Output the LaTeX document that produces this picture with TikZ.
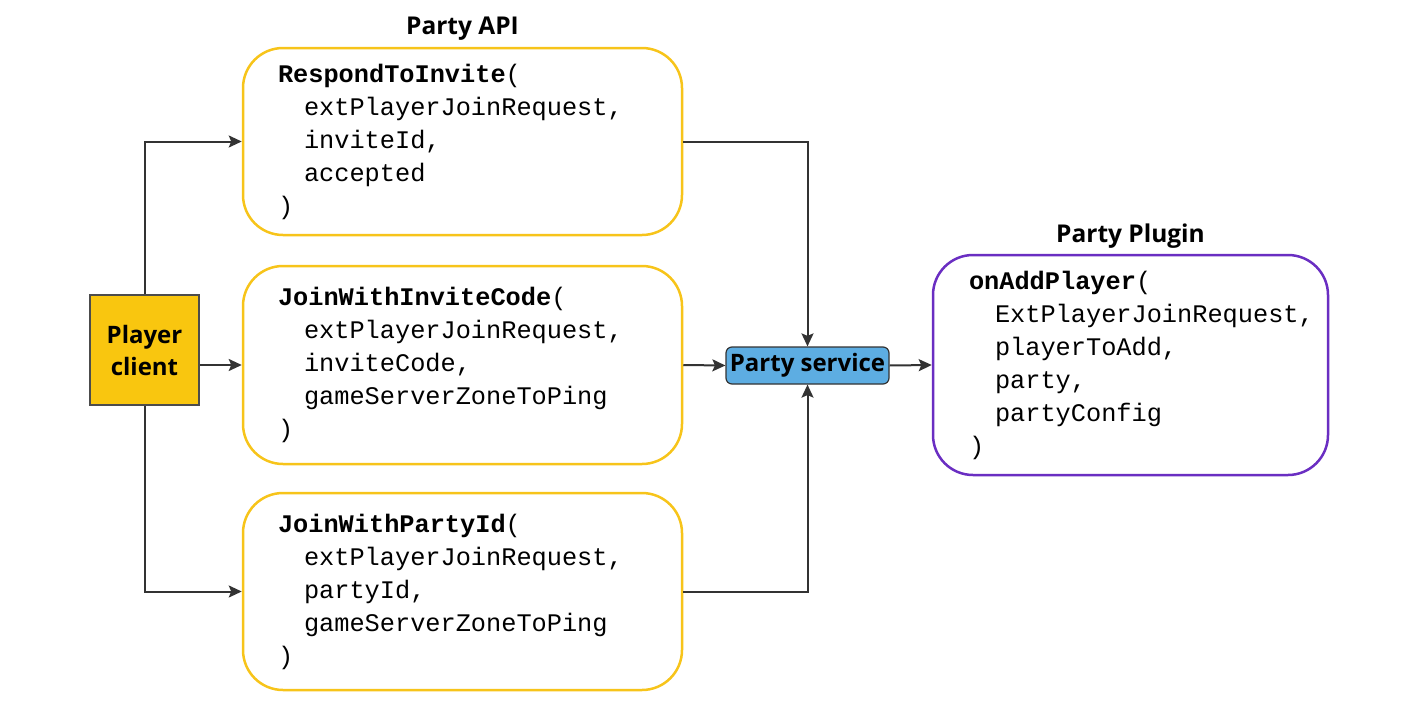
\documentclass[tikz,border=0pt]{standalone}
\usepackage{fontspec}
\setmainfont{Open Sans}
\newfontfamily\codefont{Liberation Mono}[HyphenChar=None]
\usetikzlibrary{arrows.meta, positioning, calc}

\definecolor{clientyellow}{HTML}{F9C60F}
\definecolor{apiyellow}{HTML}{F7C41A}
\definecolor{serviceblue}{HTML}{5DADE2}
\definecolor{pluginpurple}{HTML}{6A2EC2}
\definecolor{linegray}{HTML}{333333}

\tikzset{
  fnbox/.style={draw=apiyellow, line width=2.5pt, rounded corners=40pt, fill=white,
    minimum width=439pt, minimum height=187pt, text width=369pt, align=left,
    inner xsep=35pt, font=\codefont\fontsize{25.3}{33}\selectfont},
  pluginbox/.style={fnbox, draw=pluginpurple, minimum width=395pt, minimum height=220pt,
    text width=323pt, inner xsep=36pt},
  clientbox/.style={draw=gray!60!black, line width=1.5pt, fill=clientyellow,
    minimum width=109pt, minimum height=110pt, align=center,
    font=\bfseries\fontsize{24}{32}\selectfont},
  servicebox/.style={draw=linegray, line width=1.2pt, fill=serviceblue, rounded corners=6pt,
    minimum width=163pt, minimum height=37pt, inner sep=1pt,
    font=\bfseries\fontsize{24}{28}\selectfont},
  title/.style={font=\bfseries\fontsize{24.5}{28}\selectfont},
  link/.style={draw=linegray, line width=2pt, -{Stealth[length=13pt,width=12pt,inset=2.5pt]}}
}
\newcommand{\ind}{\hspace*{26pt}}

\begin{document}
\begin{tikzpicture}[x=1pt, y=-1pt]
  \useasboundingbox (0,0) rectangle (1419,704);

  \node[clientbox] (client) at (144.5,350) {Player\\client};

  \node[fnbox] (respond) at (462.5,141.5) {\textbf{RespondToInvite}(\\\ind extPlayerJoinRequest,\\\ind inviteId,\\\ind accepted\\)};
  \node[fnbox, minimum height=198pt] (joincode) at (462.5,365) {\textbf{JoinWithInviteCode}(\\\ind extPlayerJoinRequest,\\\ind inviteCode,\\\ind gameServerZoneToPing\\)};
  \node[fnbox, minimum height=197pt] (joinparty) at (462.5,591.5) {\textbf{JoinWithPartyId}(\\\ind extPlayerJoinRequest,\\\ind partyId,\\\ind gameServerZoneToPing\\)};
  \node[title] (apititle) at (462.5,29) {Party API};

  \node[servicebox] (service) at (807.5,365.5) {Party service};

  \node[pluginbox] (plugin) at (1130.5,365) {\textbf{onAddPlayer}(\\\ind ExtPlayerJoinRequest,\\\ind playerToAdd,\\\ind party,\\\ind partyConfig\\)};
  \node[title] (plugintitle) at (1130.5,236) {Party Plugin};

  % client to the API calls
  \draw[link] (client.north) |- (respond.west);
  \draw[link] (client.east |- joincode.west) -- (joincode.west);
  \draw[link] (client.south) |- (joinparty.west);

  % API calls to the service
  \draw[link] (respond.east) -| (service.north);
  \draw[link] (joincode.east) -- (service.west);
  \draw[link] (joinparty.east) -| (service.south);
  \draw[link] (service.east) -- (plugin.west);
\end{tikzpicture}
\end{document}
